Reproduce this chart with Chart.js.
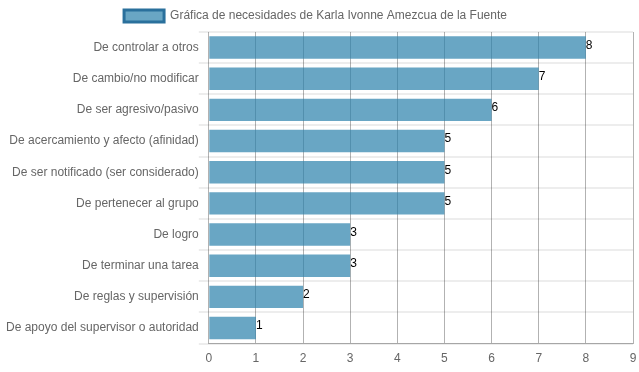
<!DOCTYPE html>
<html>
<head>
<meta charset="utf-8">
<script src="https://cdn.jsdelivr.net/npm/chart.js@4/dist/chart.umd.min.js"></script>
<style>
  html, body { margin: 0; padding: 0; background: #fff; }
  #wrap { width: 639px; height: 372px; }
</style>
</head>
<body>
<div id="wrap"><canvas id="myChart"></canvas></div>
<script>
var needs = [
  'De controlar a otros',
  'De cambio/no modificar',
  'De ser agresivo/pasivo',
  'De acercamiento y afecto (afinidad)',
  'De ser notificado (ser considerado)',
  'De pertenecer al grupo',
  'De logro',
  'De terminar una tarea',
  'De reglas y supervisión',
  'De apoyo del supervisor o autoridad'
];
var scores = [8, 7, 6, 5, 5, 5, 3, 3, 2, 1];
var xTicks = [0, 1, 2, 3, 4, 5, 6, 7, 8, 9];
var seriesName = 'Gráfica de necesidades de Karla Ivonne Amezcua de la Fuente';

Chart.defaults.font.family = '"Liberation Sans", Arial, sans-serif';
Chart.defaults.font.size = 12;
Chart.defaults.color = '#666';

// numbers at the end of every bar
var valueLabels = {
  id: 'valueLabels',
  afterDatasetsDraw: function(chart) {
    var ctx = chart.ctx;
    ctx.save();
    ctx.fillStyle = '#000';
    ctx.font = '12px "Liberation Sans", Arial, sans-serif';
    ctx.textAlign = 'left';
    ctx.textBaseline = 'middle';
    chart.getDatasetMeta(0).data.forEach(function(bar, i) {
      ctx.fillText(scores[i], bar.x, bar.y - 2);
    });
    ctx.restore();
  }
};

// legend sits a bit left of centre in the original
var legendShift = {
  id: 'legendShift',
  afterLayout: function(chart) {
    chart.legend.left -= 4;
    chart.legend.right -= 10;
  }
};

var ctx = document.getElementById('myChart');
var myChart = new Chart(ctx, {
  type: 'bar',
  data: {
    labels: needs,
    datasets: [{
      label: seriesName,
      data: scores,
      backgroundColor: 'rgba(42,128,171,0.7)',
      borderColor: 'rgba(42,112,156,1)',
      borderWidth: 0
    }]
  },
  options: {
    indexAxis: 'y',
    responsive: true,
    maintainAspectRatio: false,
    animation: false,
    layout: { padding: { left: 6, right: 0, top: 0, bottom: 0 } },
    plugins: {
      legend: {
        labels: {
          boxWidth: 40,
          boxHeight: 12,
          generateLabels: function(chart) {
            var items = Chart.defaults.plugins.legend.labels.generateLabels(chart);
            items.forEach(function(it) {
              it.lineWidth = 3;
              it.strokeStyle = 'rgba(42,112,156,1)';
            });
            return items;
          }
        }
      },
      tooltip: { enabled: false }
    },
    scales: {
      x: {
        min: 0,
        max: 9,
        afterBuildTicks: function(axis) {
          axis.ticks = xTicks.map(function(v) { return { value: v }; });
        },
        afterFit: function(axis) {
          axis.paddingRight = 6;
          axis.height -= 2;
        },
        grid: { color: 'rgba(0,0,0,0.3)', drawTicks: false },
        border: { color: 'rgba(0,0,0,0.3)' },
        ticks: { padding: 8 }
      },
      y: {
        grid: { color: 'rgba(0,0,0,0.07)', lineWidth: 2, tickLength: 10 },
        border: { display: false },
        ticks: { padding: 0 }
      }
    }
  },
  plugins: [valueLabels, legendShift]
});
</script>
</body>
</html>
